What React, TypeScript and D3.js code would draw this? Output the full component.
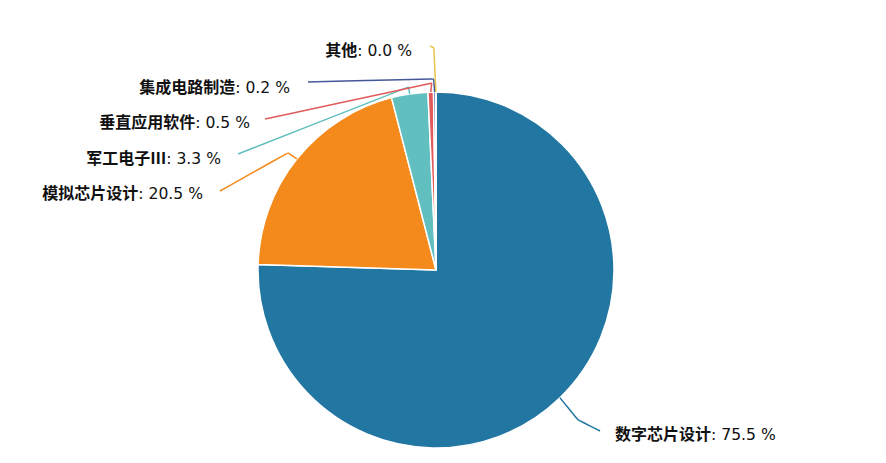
import React from "react";
import * as d3 from "d3";

const categories = ["数字芯片设计", "模拟芯片设计", "军工电子Ⅲ", "垂直应用软件", "集成电路制造", "其他"];
const values = [75.5, 20.5, 3.3, 0.5, 0.2, 0.02];
const valueLabels = ["75.5", "20.5", "3.3", "0.5", "0.2", "0.0"];
const colors = ["#2276a2", "#f48a1b", "#62bfbf", "#e25b5b", "#44589a", "#e8c34a"];

const W = 886, H = 463;
const cx = 436, cy = 270, R = 178;

// label layout: elbow offset relative to slice edge point, line end, text side
const labelLayout = [
  { elbow: [18, 22], end: [600, 431], textX: 615, textY: 434, anchor: "start" },
  { elbow: [-9, -6], end: [220, 191], textX: 203, textY: 193, anchor: "end" },
  { elbow: [-1, -7], end: [238, 154], textX: 221, textY: 158, anchor: "end" },
  { elbow: [1, -9], end: [265, 119], textX: 250, textY: 122, anchor: "end" },
  { elbow: [-1, -13], end: [308, 82], textX: 290, textY: 87, anchor: "end" },
  { elbow: [-2, -44], end: [430, 46], textX: 412, textY: 50, anchor: "end" },
];

export default function App() {
  const pie = d3.pie<number>().sort(null).value((d) => d);
  const arcs = pie(values);
  const arc = d3.arc<d3.PieArcDatum<number>>().innerRadius(0).outerRadius(R);
  const line = d3.line().curve(d3.curveBasis);

  return (
    <svg width={W} height={H} style={{ position: "absolute", left: 0, top: 0, background: "#fff" }}>
      <g transform={`translate(${cx},${cy})`}>
        {arcs.map((a, i) => (
          <path key={i} d={arc(a) || ""} fill={colors[i]} stroke="#fff" strokeWidth={1.5} />
        ))}
      </g>
      {arcs.map((a, i) => {
        const mid = (a.startAngle + a.endAngle) / 2;
        const p0: [number, number] = [cx + R * Math.sin(mid), cy - R * Math.cos(mid)];
        const L = labelLayout[i];
        const p1: [number, number] = [p0[0] + L.elbow[0], p0[1] + L.elbow[1]];
        const p2: [number, number] = [L.end[0], L.end[1]];
        const pm1: [number, number] = [p1[0] + (p0[0] - p1[0]) * 0.5, p1[1] + (p0[1] - p1[1]) * 0.5];
        const pts: [number, number][] = [p0, pm1, p1, p1, [p1[0] + (p2[0] - p1[0]) * 0.15, p1[1] + (p2[1] - p1[1]) * 0.15], p2, p2];
        return (
          <g key={"l" + i}>
            <path d={line(pts) || ""} fill="none" stroke={colors[i]} strokeWidth={1.5} />
            <text
              x={L.textX}
              y={L.textY}
              dy="0.35em"
              textAnchor={L.anchor as any}
              fontFamily="'Noto Sans CJK SC', 'Noto Sans', sans-serif"
              fontSize={16}
              fill="#111"
            >
              <tspan fontWeight="bold">{categories[i]}</tspan>
              <tspan fontFamily="'DejaVu Sans', sans-serif" fontSize={15.6}>{": " + valueLabels[i] + " %"}</tspan>
            </text>
          </g>
        );
      })}
    </svg>
  );
}
